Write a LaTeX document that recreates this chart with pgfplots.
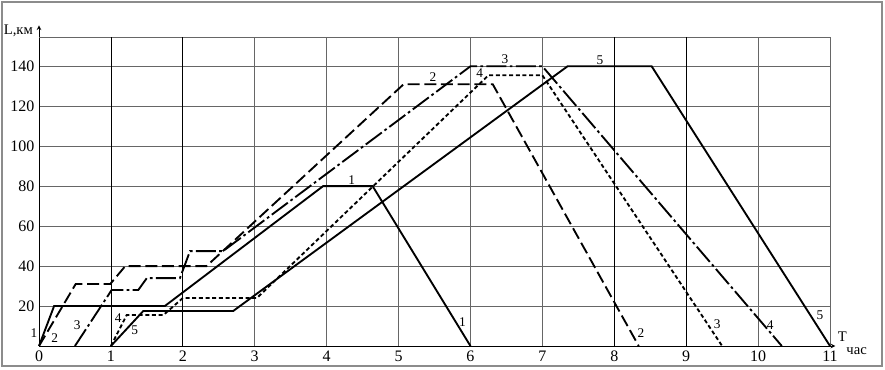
\documentclass[border=0pt]{standalone}
\usepackage{pgfplots}
\pgfplotsset{compat=1.18}
\usepackage{fontspec}
\setmainfont{Liberation Serif}
\begin{document}
\begin{tikzpicture}[x=0.75pt,y=0.75pt]
\path[use as bounding box] (-39,-24) rectangle (846,346);
\draw[black!45, line width=0.8pt] (-37,-20) rectangle (843,344);
\begin{axis}[
  at={(0,0)}, anchor=origin,
  scale only axis, width=593.25pt, height=231.5pt,
  xmin=0, xmax=11, ymin=0, ymax=154.5,
  clip=false,
  axis x line=bottom, axis y line=left,
  x axis line style={-stealth, shorten >=-4pt, line width=0.6pt},
  y axis line style={-stealth, shorten >=-9pt, line width=0.6pt},
  xtick={0,...,11}, ytick={20,40,...,140},
  extra y ticks={154.5}, extra y tick labels={},
  grid=major, major grid style={black!60, line width=0.5pt},
  major tick length=0pt,
  tick label style={font=\fontsize{12}{13}\selectfont},
  /pgf/number format/assume math mode=true,
]
\draw[black, line width=0.6pt] (axis cs:1,0)--(axis cs:1,154.5);
\draw[black, line width=0.6pt] (axis cs:2,0)--(axis cs:2,154.5);
\draw[black, line width=0.6pt] (axis cs:8,0)--(axis cs:8,154.5);
\draw[black, line width=0.6pt] (axis cs:9,0)--(axis cs:9,154.5);
% series 1
\addplot[black, line width=1.4pt] coordinates {(0,0)(0.21,20)(1.75,20)(3.95,80)(4.64,80)(6.0,0)};
% series 2
\addplot[black, line width=1.4pt, dash pattern=on 9pt off 3.5pt] coordinates {(0,0)(0.51,31)(0.99,31)(1.2,40)(2.33,40)(5.07,131)(6.31,131)(8.34,0)};
% series 3
\addplot[black, line width=1.4pt, dash pattern=on 15pt off 2.5pt on 2pt off 2.5pt] coordinates {(0.5,0)(1.01,28)(1.38,28)(1.5,34)(1.96,34)(2.1,47.5)(2.56,47.5)(6.0,140)(7.0,140)(10.33,0)};
% series 4
\addplot[black, line width=1.4pt, dash pattern=on 3pt off 2pt] coordinates {(1,0)(1.22,15.5)(1.73,15.5)(2.0,24)(3.03,24)(6.25,135.5)(7.0,135.5)(9.5,0)};
% series 5
\addplot[black, line width=1.4pt] coordinates {(1,0)(1.45,17.5)(2.70,17.5)(7.35,140)(8.52,140)(11,0)};
% labels
\pgfplotsset{every node/.append style={font=\fontsize{10}{11}\selectfont, inner sep=0pt}}
\node at (axis cs:-0.07,6.5) {1};
\node at (axis cs:0.22,4) {2};
\node at (axis cs:0.53,10.5) {3};
\node at (axis cs:1.1,14) {4};
\node at (axis cs:1.33,8) {5};
\node at (axis cs:4.35,83) {1};
\node at (axis cs:5.89,12) {1};
\node at (axis cs:5.48,134.5) {2};
\node at (axis cs:6.48,143.5) {3};
\node at (axis cs:6.13,136.5) {4};
\node at (axis cs:7.8,143) {5};
\node at (axis cs:8.37,6.3) {2};
\node at (axis cs:9.43,11) {3};
\node at (axis cs:10.17,10.5) {4};
\node at (axis cs:10.86,15.5) {5};
\node[anchor=base east, font=\fontsize{11}{12}\selectfont] at (axis cs:-0.02,156) {L,км};
\node[font=\fontsize{11}{12}\selectfont] at (axis cs:11.17,4.5) {T};
\node[font=\fontsize{11}{12}\selectfont] at (axis cs:11.37,-2.5) {час};
\end{axis}
\end{tikzpicture}
\end{document}
